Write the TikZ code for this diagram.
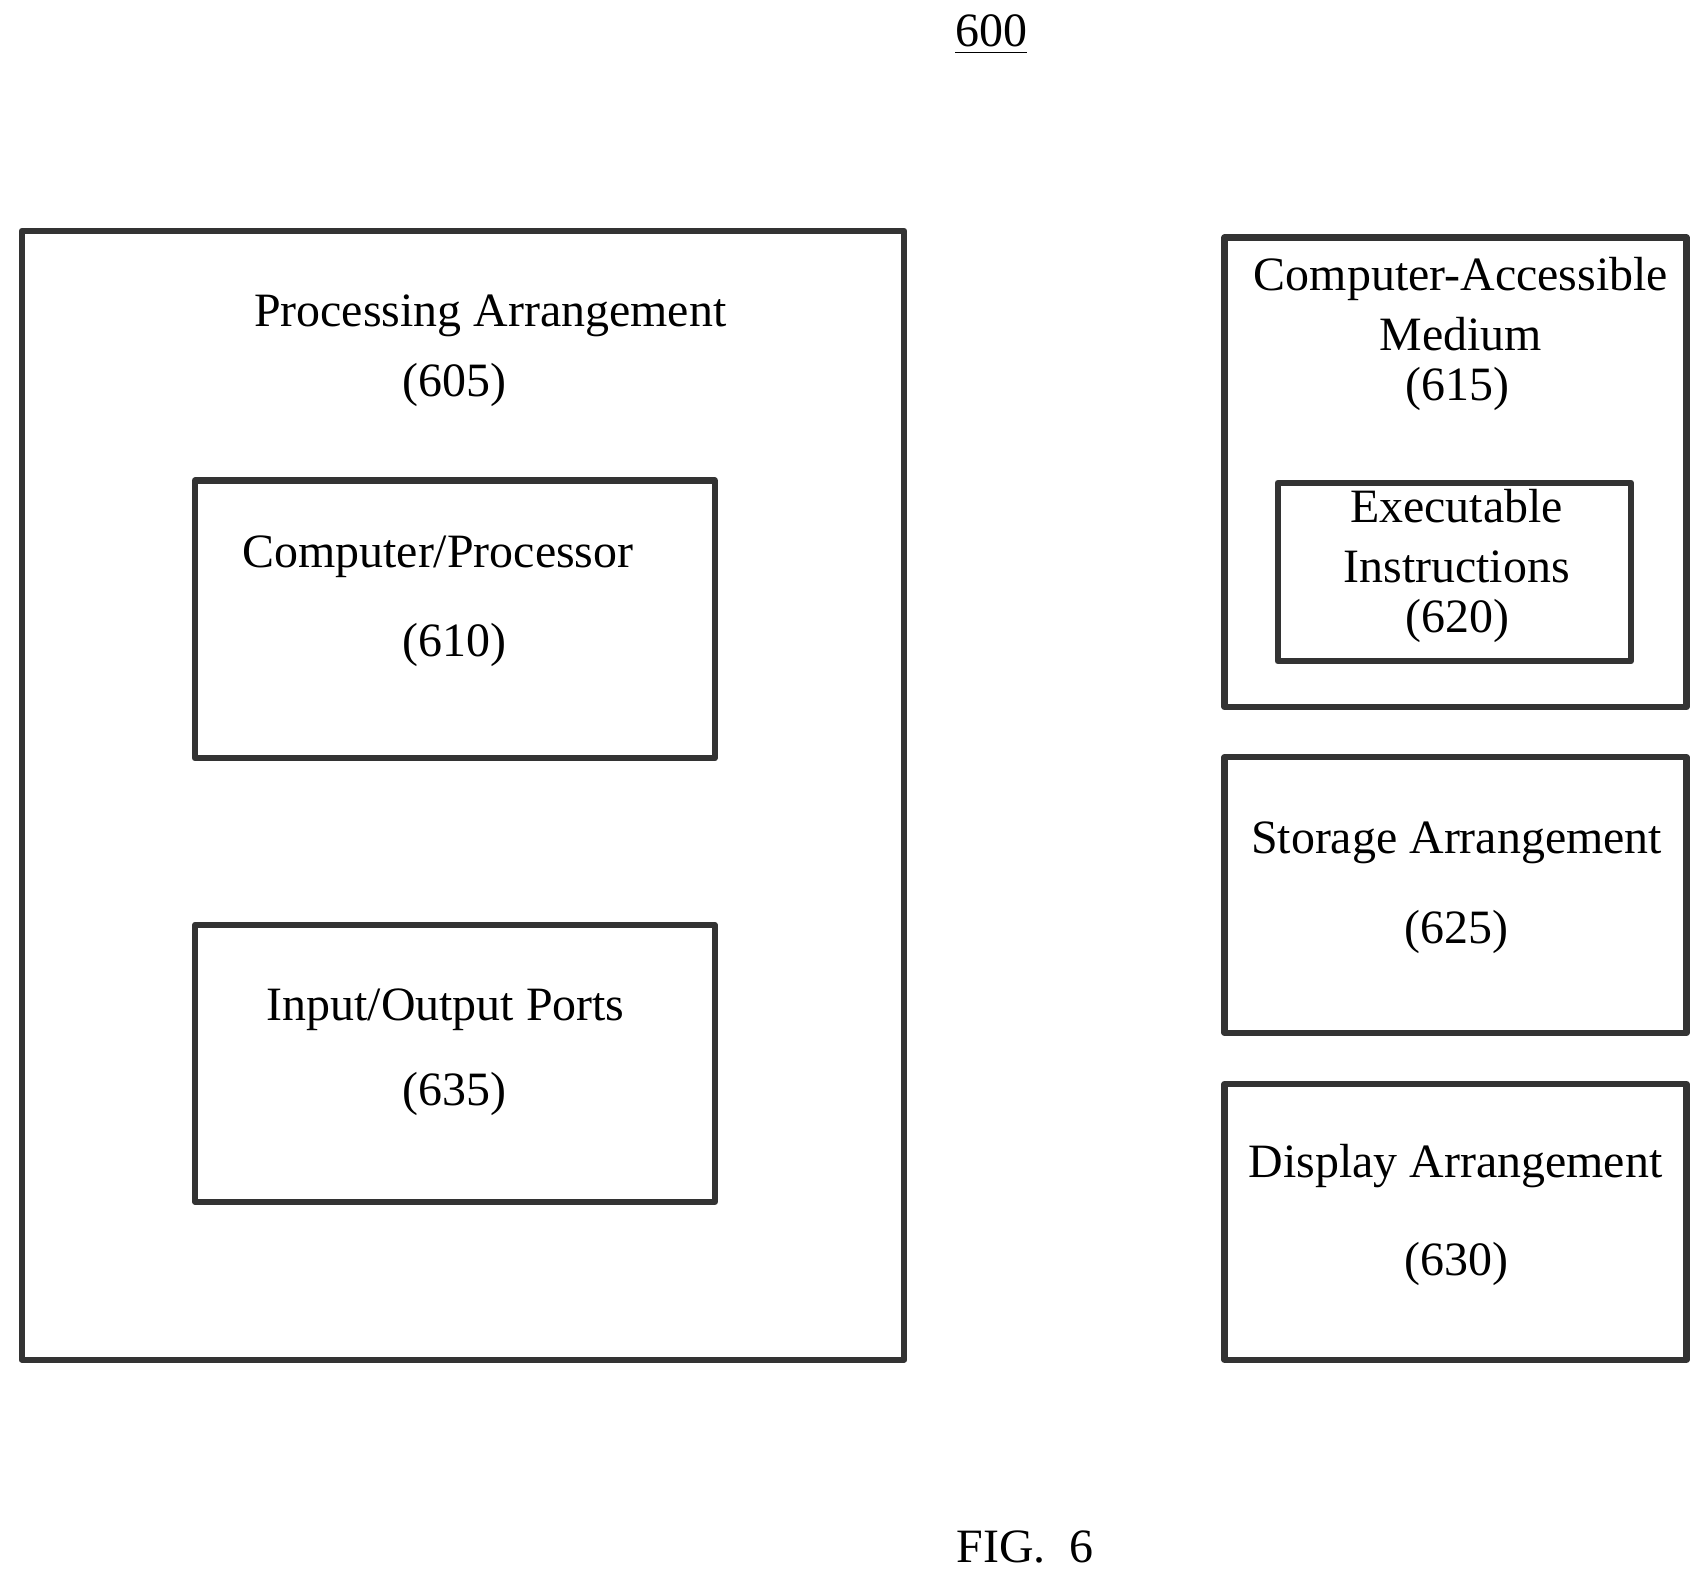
\documentclass[tikz,border=0pt]{standalone}
\usepackage{fontspec}
\setmainfont{Liberation Serif}
\usetikzlibrary{positioning}

\begin{document}
\begin{tikzpicture}[
    x=0.01cm,
    y=-0.01cm,
    line join=round,
    box/.style={draw=black!80,line width=1.6pt,inner sep=0pt},
    lbl/.style={font=\fontsize{12.5}{15.5}\selectfont,align=center}
]
\useasboundingbox (0,0) rectangle (1565,1453);
% frames
\draw[box] (20,212) rectangle (830,1248) coordinate (pa);
\draw[box] (179,441) rectangle (656,696) coordinate (cp);
\draw[box] (179,849) rectangle (656,1103) coordinate (io);
\draw[box] (1124,218) rectangle (1548,649) coordinate (cam);
\draw[box] (1173,443) rectangle (1497,607) coordinate (ei);
\draw[box] (1124,695) rectangle (1548,948) coordinate (sa);
\draw[box] (1124,995) rectangle (1548,1248) coordinate (da);

% labels
\node[lbl] (t600) at (910,32) {\underline{600}};
\node[lbl] (tpa) at (450,290) {Processing Arrangement};
\node[lbl] (npa) at (417,353) {(605)};
\node[lbl] (tcp) at (402,511) {Computer/Processor};
\node[lbl] (ncp) at (417,592) {(610)};
\node[lbl] (tio) at (409,927) {Input/Output Ports};
\node[lbl] (nio) at (417,1004) {(635)};
\node[lbl] (tcam) at (1341,279) {Computer-Accessible\\Medium};
\node[lbl] (ncam) at (1338,357) {(615)};
\node[lbl] (tei) at (1337,492) {Executable\\Instructions};
\node[lbl] (nei) at (1338,570) {(620)};
\node[lbl] (tsa) at (1337,774) {Storage Arrangement};
\node[lbl] (nsa) at (1337,855) {(625)};
\node[lbl] (tda) at (1336,1070) {Display Arrangement};
\node[lbl] (nda) at (1337,1160) {(630)};
\node[lbl] (fig) at (941,1420) {FIG.~~6};
\end{tikzpicture}
\end{document}
